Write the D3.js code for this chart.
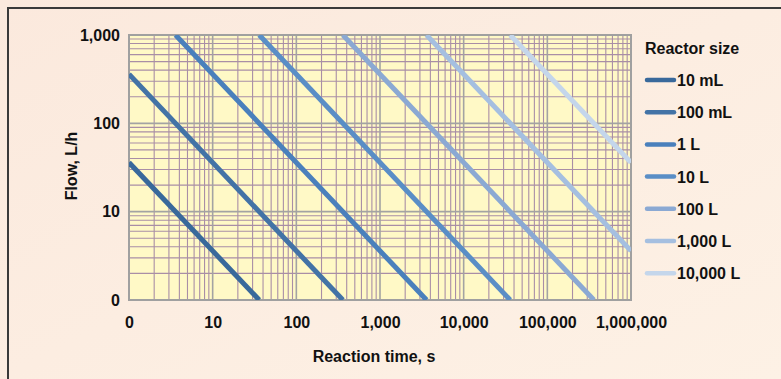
<!DOCTYPE html>
<html><head><meta charset="utf-8">
<script src="https://cdn.jsdelivr.net/npm/d3@7"></script>
<style>
body{margin:0;background:#fcede1;}
svg{display:block;}
svg text{font-family:"Liberation Sans",Arial,sans-serif;font-weight:700;fill:#111;}
</style></head>
<body>
<svg id="c" width="781" height="379"></svg>
<script>
// Reactor sizes (legend) and line colours
const reactorSizes = ["10 mL","100 mL","1 L","10 L","100 L","1,000 L","10,000 L"];
const seriesColors = ["#39699b","#4373a6","#4a80bc","#5a8ec6","#8ba9d3","#a5bfe0","#c4d6eb"];
// Each line read as two end points: [reaction time (s), flow (L/h)]
const lineStart = [[1,36],[1,360],[3.6,1000],[36,1000],[360,1000],[3600,1000],[36000,1000]];
const lineEnd   = [[36,1],[360,1],[3600,1],[36000,1],[360000,1],[1000000,3.6],[1000000,36]];
// Axis ticks and labels
const xTicks = [1,10,100,1000,10000,100000,1000000];
const xTickLabels = ["0","10","100","1,000","10,000","100,000","1,000,000"];
const yTicks = [1,10,100,1000];
const yTickLabels = ["0","10","100","1,000"];

const FS = 16;
const svg = d3.select("#c");
const defs = svg.append("defs");
const g0 = defs.append("linearGradient").attr("id","bg").attr("x1","0").attr("y1","0").attr("x2","1").attr("y2","1");
g0.append("stop").attr("offset","0").attr("stop-color","#fbe9dd");
g0.append("stop").attr("offset","1").attr("stop-color","#fdf1e5");
svg.append("rect").attr("width",781).attr("height",379).attr("fill","url(#bg)");
svg.append("path").attr("d","M8,379 V8 H781").attr("fill","none").attr("stroke","#3a3a3a").attr("stroke-width",2);

const L=129, R=631, T=35, B=300;
const x = d3.scaleLog().domain([1,1e6]).range([L,R]);
const y = d3.scaleLog().domain([1,1000]).range([B,T]);

defs.append("clipPath").attr("id","clip").append("rect").attr("x",L).attr("y",T).attr("width",R-L).attr("height",B-T);
svg.append("rect").attr("x",L).attr("y",T).attr("width",R-L).attr("height",B-T).attr("fill","#fff9c6");

const minorX=[], minorY=[];
for(let d=1; d<1e6; d*=10) for(let k=2;k<=9;k++) minorX.push(d*k);
for(let d=1; d<1000; d*=10) for(let k=2;k<=9;k++) minorY.push(d*k);
const grid = svg.append("g");
grid.selectAll(".mx").data(minorX).join("line").attr("x1",d=>x(d)).attr("x2",d=>x(d)).attr("y1",T).attr("y2",B).attr("stroke","#a98ea6").attr("stroke-width",1.1);
grid.selectAll(".my").data(minorY).join("line").attr("y1",d=>y(d)).attr("y2",d=>y(d)).attr("x1",L).attr("x2",R).attr("stroke","#a98ea6").attr("stroke-width",1.1);
grid.selectAll(".Mx").data(xTicks).join("line").attr("x1",d=>x(d)).attr("x2",d=>x(d)).attr("y1",T).attr("y2",B).attr("stroke","#a3a3a3").attr("stroke-width",1.6);
grid.selectAll(".My").data(yTicks).join("line").attr("y1",d=>y(d)).attr("y2",d=>y(d)).attr("x1",L).attr("x2",R).attr("stroke","#a3a3a3").attr("stroke-width",1.6);
svg.append("rect").attr("x",L).attr("y",T).attr("width",R-L).attr("height",B-T).attr("fill","none").attr("stroke","#a0a0a0").attr("stroke-width",2);

const lg = svg.append("g").attr("clip-path","url(#clip)");
reactorSizes.forEach((s,i)=>{
  lg.append("line").attr("x1",x(lineStart[i][0])).attr("y1",y(lineStart[i][1]))
    .attr("x2",x(lineEnd[i][0])).attr("y2",y(lineEnd[i][1]))
    .attr("stroke",seriesColors[i]).attr("stroke-width",5);
});

const xa = d3.axisBottom(x).tickValues(xTicks).tickFormat((d,i)=>xTickLabels[i]).tickSize(0).tickPadding(17);
svg.append("g").attr("transform",`translate(0,${B})`).call(xa)
  .attr("font-family",null).attr("font-size",null)
  .call(g=>g.select(".domain").remove())
  .selectAll("text").attr("font-size",FS).attr("fill","#111");
const ya = d3.axisLeft(y).tickValues(yTicks).tickFormat((d,i)=>yTickLabels[i]).tickSize(0).tickPadding(9);
svg.append("g").attr("transform",`translate(${L},0)`).call(ya)
  .attr("font-family",null).attr("font-size",null)
  .call(g=>g.select(".domain").remove())
  .selectAll("text").attr("font-size",FS).attr("fill","#111");

svg.append("text").attr("x",374).attr("y",362).attr("text-anchor","middle").attr("font-size",FS).text("Reaction time, s");
svg.append("text").attr("transform","translate(77,166) rotate(-90)").attr("text-anchor","middle").attr("font-size",FS).text("Flow, L/h");

svg.append("text").attr("x",645).attr("y",54).attr("font-size",FS).text("Reactor size");
const leg = svg.append("g");
reactorSizes.forEach((s,i)=>{
  const yy = 80 + i*32.2;
  leg.append("line").attr("x1",647).attr("x2",674).attr("y1",yy).attr("y2",yy).attr("stroke",seriesColors[i]).attr("stroke-width",4.5).attr("stroke-linecap","round");
  leg.append("text").attr("x",677).attr("y",yy+6).attr("font-size",FS).text(s);
});
</script>
</body></html>
